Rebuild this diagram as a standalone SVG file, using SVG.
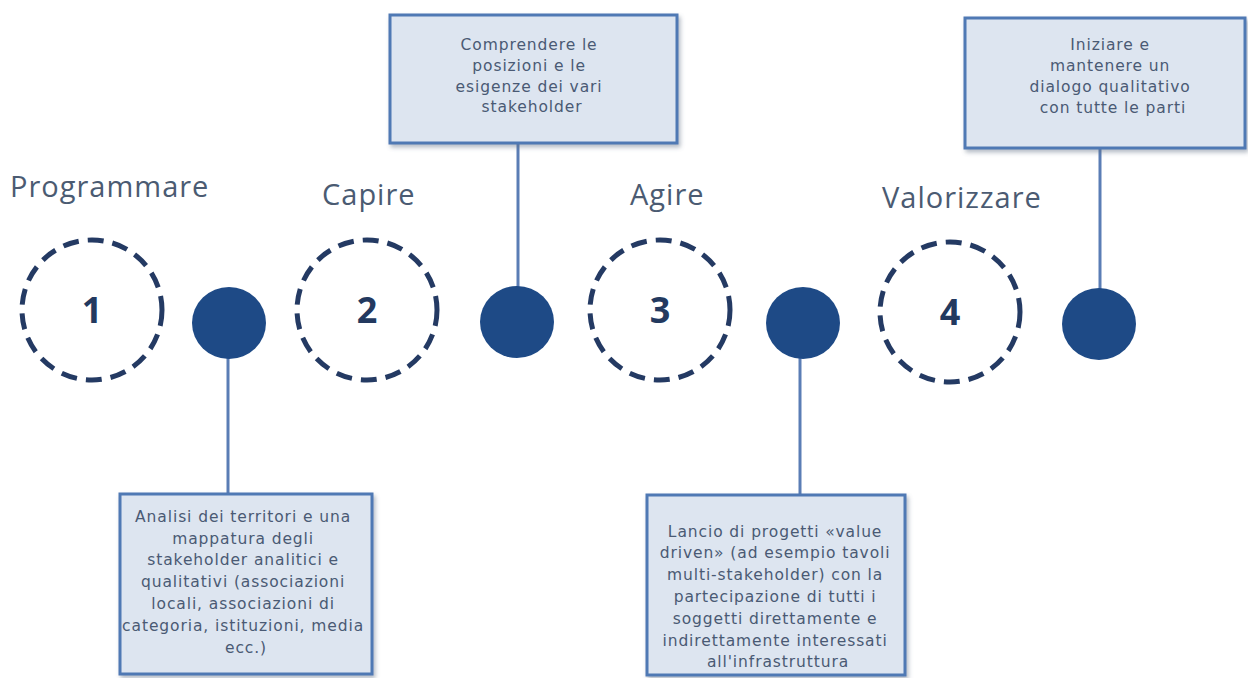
<svg xmlns="http://www.w3.org/2000/svg" width="1248" height="678" viewBox="0 0 1248 678">
<defs>
<filter id="sh" x="-5%" y="-5%" width="112%" height="115%">
<feDropShadow dx="2" dy="3" stdDeviation="2" flood-color="#5a6a80" flood-opacity="0.45"/>
</filter>
<style>
.head{font-family:"Open Sans","Noto Sans",sans-serif;font-size:29px;letter-spacing:1px;fill:#4b5b72}
.num{font-family:"Open Sans","Noto Sans",sans-serif;font-size:36px;font-weight:bold;fill:#23395f;text-anchor:middle}
.ring{fill:none;stroke:#243a63;stroke-width:5;stroke-dasharray:16 9}
.dot{fill:#1e4a86}
.box{fill:#dde5f0;stroke:#4f79b4;stroke-width:3;filter:url(#sh)}
.bt{font-family:"DejaVu Sans",sans-serif;font-size:15.5px;letter-spacing:0.9px;fill:#4a5a74;text-anchor:middle}
.con{stroke:#5a7db5;stroke-width:3;fill:none}
</style>
</defs>
<rect width="1248" height="678" fill="#ffffff"/>

<g id="connectors">
<line class="con" x1="228" y1="358" x2="228" y2="494"/>
<line class="con" x1="518" y1="143" x2="518" y2="290"/>
<line class="con" x1="800" y1="358" x2="800" y2="495"/>
<line class="con" x1="1100" y1="148" x2="1100" y2="290"/>
</g>

<g id="step1">
<text class="head" x="10" y="197">Programmare</text>
<circle class="ring" cx="92" cy="310" r="70"/>
<text class="num" x="92" y="323">1</text>
</g>
<g id="step2">
<text class="head" x="322" y="205">Capire</text>
<circle class="ring" cx="367" cy="310" r="70"/>
<text class="num" x="367" y="323">2</text>
</g>
<g id="step3">
<text class="head" x="630" y="205">Agire</text>
<circle class="ring" cx="660" cy="310" r="70"/>
<text class="num" x="660" y="323">3</text>
</g>
<g id="step4">
<text class="head" x="882" y="208">Valorizzare</text>
<circle class="ring" cx="950" cy="312" r="70"/>
<text class="num" x="950" y="325">4</text>
</g>

<g id="dot1"><ellipse class="dot" cx="229" cy="323" rx="37" ry="36"/></g>
<g id="dot2"><ellipse class="dot" cx="517" cy="322" rx="37" ry="36"/></g>
<g id="dot3"><ellipse class="dot" cx="803" cy="323" rx="37" ry="36"/></g>
<g id="dot4"><ellipse class="dot" cx="1099" cy="324" rx="37" ry="36"/></g>

<g id="box1">
<rect class="box" x="120" y="494" width="252" height="180"/>
<text class="bt">
<tspan x="246" y="522">Analisi dei territori e una</tspan>
<tspan x="246" y="544">mappatura degli</tspan>
<tspan x="246" y="565">stakeholder analitici e</tspan>
<tspan x="246" y="587">qualitativi (associazioni</tspan>
<tspan x="246" y="609">locali, associazioni di</tspan>
<tspan x="246" y="631">categoria, istituzioni, media</tspan>
<tspan x="246" y="653">ecc.)</tspan>
</text>
</g>

<g id="box2">
<rect class="box" x="390" y="15" width="287" height="128"/>
<text class="bt">
<tspan x="532" y="50">Comprendere le</tspan>
<tspan x="532" y="71">posizioni e le</tspan>
<tspan x="532" y="92">esigenze dei vari</tspan>
<tspan x="532" y="112">stakeholder</tspan>
</text>
</g>

<g id="box3">
<rect class="box" x="647" y="495" width="258" height="180"/>
<text class="bt">
<tspan x="778" y="537">Lancio di progetti «value</tspan>
<tspan x="778" y="558">driven» (ad esempio tavoli</tspan>
<tspan x="778" y="580">multi-stakeholder) con la</tspan>
<tspan x="778" y="602">partecipazione di tutti i</tspan>
<tspan x="778" y="624">soggetti direttamente e</tspan>
<tspan x="778" y="646">indirettamente interessati</tspan>
<tspan x="778" y="667">all'infrastruttura</tspan>
</text>
</g>

<g id="box4">
<rect class="box" x="965" y="18" width="280" height="130"/>
<text class="bt">
<tspan x="1113" y="50">Iniziare e</tspan>
<tspan x="1113" y="71">mantenere un</tspan>
<tspan x="1113" y="92">dialogo qualitativo</tspan>
<tspan x="1113" y="113">con tutte le parti</tspan>
</text>
</g>
</svg>
